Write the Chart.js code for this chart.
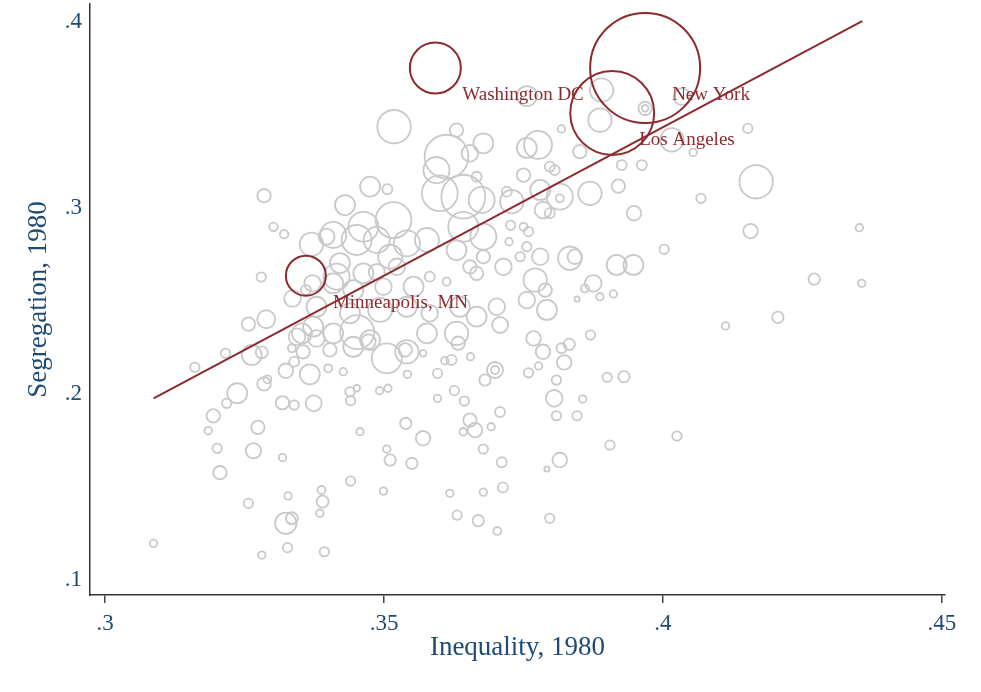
<!DOCTYPE html>
<html>
<head>
<meta charset="utf-8">
<script src="https://cdn.jsdelivr.net/npm/chart.js@4/dist/chart.umd.min.js"></script>
<style>
  html, body { margin: 0; padding: 0; background: #fff; }
  canvas { display: block; }
</style>
</head>
<body>
<canvas id="chart" width="981" height="692"></canvas>
<script>
// metro areas, 1980: inequality (x), segregation (y), population weight (bubble area)
const inequality = [
  .3285, .3302, .3321, .3370, .3397, .3280, .3372, .3336, .3360, .3289,
  .3257, .3353, .3379, .3263, .3281, .3216, .3161, .3335, .3355, .3324,
  .3339, .3367, .3400, .3237, .3218, .3285, .3291, .3318, .3339, .3374,
  .3194, .3185, .3274, .3201, .3266, .3318, .3206, .3388, .3390, .3328,
  .3257, .3385, .3324, .3335, .3087, .3327, .3281, .3393,
  .3409, .3421, .3409, .3445, .3379, .3452, .3373, .3409, .3445, .3475, .3344, .3403, .3487,
  .3518, .3630, .3654, .3612, .3678, .3666, .3594, .3600, .3642, .3675,
  .3475, .3506, .3430, .3463, .3517, .3487, .3451, .3541, .3511, .3577,
  .3642, .3630, .3678, .3678, .3582, .3612, .3654, .3666, .3415, .3463,
  .3499, .3553, .3523, .3439, .3493, .3541, .3582, .3636, .3666,
  .3776, .3756, .3851, .3818, .3797, .3806, .3750, .3920, .3869, .3815,
  .3815, .3780, .3720, .3729, .3785, .3797, .3948, .3727, .3750, .3759,
  .3724, .3756, .3744, .3780, .3833, .3842, .3917, .3947, .3875, .3860,
  .3887, .3911, .3846, .3714, .3771, .3756, .3789, .3792, .3702, .3708,
  .3756, .3890, .3968, .3968, .3887, .4016, .4034, .4152, .4054, .4167,
  .3926, .3962, .4068, .4157, .4352, .4002, .4271, .4356, .4206, .4112, .4025,
  .3768, .3785, .3818, .3832, .3823, .3870, .3759, .3777, .3699, .3699,
  .3809, .3900, .3930, .3805, .3856, .3809, .3846, .3708, .3905, .3815,
  .3792, .3711, .3713, .3797, .3703,
  .3505, .3541, .3538, .3472, .3570, .3577, .3633, .3630, .3609, .3621,
  .3655, .3681, .3427, .3542, .3596, .3439, .3451, .3440, .3492, .3507,
  .3626, .3596, .3644, .3539, .3457, .3570, .3654, .3663, .3642, .3692,
  .3505, .3511, .3550, .3678, .3440, .3499, .3618, .3678, .3631, .3669
];
const segregation = [
  .3066, .2899, .2859, .2805, .2846, .2629, .2595, .2514, .2559, .2402,
  .2376, .2326, .2299, .2210, .2224, .2219, .2144, .2246, .2227, .2125,
  .2174, .2106, .2138, .2004, .1950, .2054, .2079, .1953, .1941, .1950,
  .1883, .1803, .1821, .1708, .1695, .1658, .1577, .1484, .1421, .1452,
  .1412, .1359, .1305, .1332, .1197, .1174, .1134, .1152,
  .2855, .2704, .2595, .2559, .2469, .2333, .2362, .2326, .2254, .2290, .2308, .2237, .2656,
  .3437, .3419, .3294, .3276, .3348, .3168, .3204, .3079, .3061, .3043,
  .3115, .3101, .3016, .2899, .2935, .2828, .2828, .2810, .2738, .2828,
  .2899, .2774, .2846, .2738, .2631, .2604, .2684, .2649, .2631, .2649,
  .2577, .2577, .2684, .2434, .2452, .2469, .2434, .2469, .2416,
  .3339, .3323, .3303, .3425, .3222, .3204, .3177, .3118, .3079, .3061,
  .3052, .3097, .3088, .3034, .2989, .2972, .2972, .2907, .2899, .2873,
  .2819, .2792, .2738, .2738, .2730, .2738, .2694, .2694, .2595, .2568,
  .2523, .2538, .2511, .2684, .2613, .2505, .2559, .2452, .2469, .2371,
  .3602, .3634, .3536, .3536, .3473, .3366, .3598, .3428, .3299, .3141,
  .3231, .3231, .3052, .2876, .2894, .2778, .2618, .2595, .2412, .2366, .1774,
  .2299, .2227, .2246, .2267, .2170, .2317, .2114, .2151, .2129, .2129,
  .2075, .2090, .2093, .1977, .1973, .1883, .1883, .1903, .1726, .1645,
  .1597, .1633, .1498, .1332, .1263,
  .2192, .2227, .2237, .2281, .2219, .2326, .2273, .2326, .2179, .2183,
  .2201, .2075, .2120, .2106, .2111, .2012, .2031, .1964, .2018, .2031,
  .2018, .1977, .1962, .1842, .1797, .1762, .1860, .1806, .1797, .1824,
  .1704, .1645, .1627, .1704, .1532, .1478, .1466, .1472, .1349, .1319
];
const popWeight = [
  .45, .18, .18, 1.37, .64, .22, .69, .69, .25, .81,
  .45, 1.0, .69, 1.0, .36, .22, .22, .16, .45, .53,
  .25, 1.0, .16, 1.0, .22, .45, .16, .45, .22, .64,
  .45, .14, .45, .22, .59, .14, .45, .16, .36, .14,
  .22, .14, 1.14, .36, .14, .22, .14, .22,
  1.7, 1.0, 1.0, 1.0, 1.0, 2.9, 1.0, 1.0, 1.0, 1.0, .69, .45, .64,
  2.8, .45, .69, 4.8, 1.0, .25, 1.7, 3.2, 4.8, 1.7,
  1.0, .25, 1.0, 2.25, 3.2, 1.7, 2.25, 1.7, 1.44, 1.44,
  2.25, 1.0, 1.7, .45, .25, .16, .45, .45, 1.7, 1.0,
  .69, 1.0, .69, 1.0, 1.44, 1.0, .69, 1.0, 1.0,
  1.96, 1.0, .45, .14, .25, .25, .45, .45, 1.37, 1.7,
  .16, 1.0, .25, 1.37, .69, .25, .53, .22, .16, .22,
  .14, .22, .22, .69, 1.37, .53, 1.0, 1.0, .69, .16,
  .14, .14, .07, .69, 1.37, .69, .45, 1.0, .69, .64,
  1.0, 1.37, .45, .11, 1.37, 1.37, .69, .22, .14, 2.8,
  .25, .25, .22, .53, .14, .22, .32, .14, .32, .14, .22,
  .53, .53, .25, .32, .53, .22, .22, .14, .64, .16,
  .22, .22, .32, .69, .14, .22, .22, .25, .22, .53,
  .07, .25, .25, .22, .16,
  2.25, 1.37, .45, .53, .11, 1.0, .45, 1.37, .14, .25,
  .14, .32, .14, .14, .22, .22, .11, .22, .14, .14,
  .22, .14, .22, .32, .14, .53, .45, .53, .14, .14,
  .14, .32, .32, .22, .22, .14, .14, .14, .22, .32
];

// highlighted cities
const hlNames = ['Washington DC', 'New York', 'Los Angeles', 'Minneapolis, MN'];
const hlX = [.3592, .3968, .3909, .3360];
const hlY = [.3753, .3753, .3511, .2636];
const hlW = [6.5, 30.25, 17.6, 4.0];

// linear fit
const fitX = [.3087, .4357];
const fitY = [.1977, .4005];

const xTicks = [.3, .35, .4, .45];
const xTickLabels = ['.3', '.35', '.4', '.45'];
const yTicks = [.1, .2, .3, .4];
const yTickLabels = ['.1', '.2', '.3', '.4'];

const RED = '#8c2a30';
const GREY = '#c9c9c9';
const BLUE = '#1f4a75';
const SERIF = '"Liberation Serif", "Times New Roman", serif';

const radius = (w) => 10 * Math.sqrt(w);

const cityLabels = {
    id: 'cityLabels',
    afterDatasetsDraw(chart) {
        const { ctx, scales } = chart;
        ctx.save();
        ctx.font = '19px ' + SERIF;
        ctx.fillStyle = RED;
        ctx.textAlign = 'left';
        ctx.textBaseline = 'middle';
        hlNames.forEach(function (name, i) {
            const px = scales.x.getPixelForValue(hlX[i]);
            const py = scales.y.getPixelForValue(hlY[i]);
            ctx.fillText(name, px + 27, py + 27);
        });
        ctx.restore();
    },
};

new Chart(document.getElementById('chart'), {
    data: {
        datasets: [
            {
                type: 'bubble',
                order: 3,
                data: inequality.map((v, i) => ({ x: v, y: segregation[i], r: radius(popWeight[i]) })),
                backgroundColor: 'rgba(0,0,0,0)',
                borderColor: GREY,
                borderWidth: 1.8,
            },
            {
                type: 'line',
                order: 2,
                data: fitX.map((v, i) => ({ x: v, y: fitY[i] })),
                borderColor: RED,
                borderWidth: 2,
                pointRadius: 0,
                fill: false,
            },
            {
                type: 'bubble',
                order: 1,
                data: hlX.map((v, i) => ({ x: v, y: hlY[i], r: radius(hlW[i]) })),
                backgroundColor: 'rgba(0,0,0,0)',
                borderColor: RED,
                borderWidth: 2,
            },
        ],
    },
    options: {
        responsive: false,
        animation: false,
        events: [],
        layout: { autoPadding: false, padding: { left: 0, right: 36, top: 4, bottom: 0 } },
        plugins: {
            legend: { display: false },
            tooltip: { enabled: false },
        },
        scales: {
            x: {
                type: 'linear',
                min: 0.29731,
                max: 0.45054,
                afterFit: (s) => { s.height = 97; s.paddingLeft = 0; s.paddingRight = 0; },
                afterBuildTicks: (s) => { s.ticks = xTicks.map((v) => ({ value: v })); },
                grid: { display: true, drawOnChartArea: false, drawTicks: true, tickLength: 8, color: '#444', lineWidth: 1.5 },
                border: { display: true, color: '#333', width: 1.5 },
                ticks: {
                    maxRotation: 0,
                    padding: 7,
                    color: BLUE,
                    font: { family: SERIF, size: 23 },
                    callback: (v) => xTickLabels[xTicks.indexOf(v)],
                },
                title: {
                    display: true,
                    text: 'Inequality, 1980',
                    color: BLUE,
                    font: { family: SERIF, size: 27 },
                    padding: { top: 0, bottom: 28 },
                },
            },
            y: {
                type: 'linear',
                min: 0.09194,
                max: 0.40968,
                afterFit: (s) => { s.width = 90; s.paddingTop = 0; s.paddingBottom = 0; },
                afterBuildTicks: (s) => { s.ticks = yTicks.map((v) => ({ value: v })); },
                grid: { display: true, drawOnChartArea: false, drawTicks: false },
                border: { display: true, color: '#333', width: 1.5 },
                ticks: {
                    padding: 8,
                    color: BLUE,
                    font: { family: SERIF, size: 23 },
                    callback: (v) => yTickLabels[yTicks.indexOf(v)],
                },
                title: {
                    display: true,
                    text: 'Segregation, 1980',
                    color: BLUE,
                    font: { family: SERIF, size: 27 },
                    padding: { top: 23, bottom: 0 },
                },
            },
        },
    },
    plugins: [cityLabels],
});
</script>
</body>
</html>
